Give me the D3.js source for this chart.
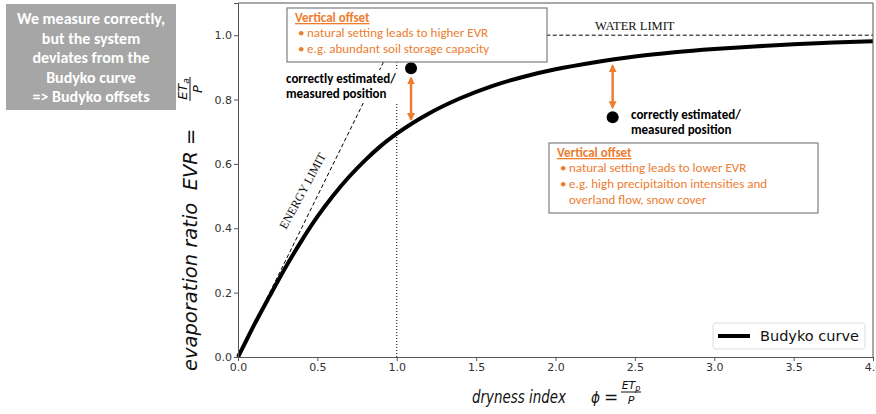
<!DOCTYPE html>
<html>
<head>
<meta charset="utf-8">
<script src="https://cdn.jsdelivr.net/npm/d3@7/dist/d3.min.js"></script>
<style>
  html, body { margin: 0; padding: 0; background: #fff; }
  svg { display: block; }
  .mpl { font-family: "DejaVu Sans", sans-serif; }
  .cal { font-family: Carlito, Lato, "Open Sans", sans-serif; }
  .serif { font-family: "Liberation Serif", "DejaVu Serif", serif; }
</style>
</head>
<body>
<svg id="chart" width="876" height="414"></svg>
<script>
// Budyko curve samples: dryness index (phi) vs evaporation ratio (EVR)
const phiSamples = [0, 0.05, 0.1, 0.2, 0.3, 0.4, 0.5, 0.6, 0.7, 0.8, 0.9, 1.0,
                    1.2, 1.4, 1.6, 1.8, 2.0, 2.25, 2.5, 2.75, 3.0, 3.25, 3.5, 3.75, 4.0];
const evrSamples = [0, 0.049, 0.098, 0.190, 0.279, 0.361, 0.436, 0.502, 0.560, 0.611, 0.656, 0.694,
                    0.756, 0.804, 0.842, 0.871, 0.894, 0.916, 0.934, 0.947, 0.957, 0.965, 0.972, 0.977, 0.981];

// Measured catchments that sit off the curve
const offsetPhi = [1.09, 2.36];
const offsetEvr = [0.897, 0.745];

// Double-headed offset arrows (from point side to curve side)
const arrowPhi  = [1.09, 2.36];
const arrowFrom = [0.867, 0.775];
const arrowTo   = [0.738, 0.905];

// Limits
const energyLimit = [[0, 0], [1.0, 1.0]];
const waterLimit  = [[1.0, 1.0], [4.0, 1.0]];
const phiOne      = [[1.0, 0], [1.0, 1.0]];

// Tick labels
const xTicks = [0, 0.5, 1.0, 1.5, 2.0, 2.5, 3.0, 3.5, 4.0];
const yTicks = [0, 0.2, 0.4, 0.6, 0.8, 1.0];

const orange = "#ED7D31";
const svg = d3.select("#chart");

const x = d3.scaleLinear().domain([0, 4]).range([238, 873]);
const y = d3.scaleLinear().domain([0, 1.1]).range([357, 3]);

// arrow head markers
const defs = svg.append("defs");
["start", "end"].forEach(k => {
  defs.append("marker")
    .attr("id", "head-" + k)
    .attr("viewBox", "0 0 10 10")
    .attr("refX", 8).attr("refY", 5)
    .attr("markerWidth", 3.2).attr("markerHeight", 3.6)
    .attr("markerUnits", "strokeWidth")
    .attr("orient", k === "start" ? "auto-start-reverse" : "auto")
    .append("path").attr("d", "M0,0 L10,5 L0,10 Z").attr("fill", orange);
});

const line = d3.line().x(d => x(d[0])).y(d => y(d[1]));

// dotted vertical at phi = 1
svg.append("path").attr("d", line(phiOne))
  .attr("stroke", "#000").attr("stroke-width", 1).attr("stroke-dasharray", "1,2").attr("fill", "none");
// energy limit
svg.append("path").attr("d", line(energyLimit))
  .attr("stroke", "#000").attr("stroke-width", 1).attr("stroke-dasharray", "4,2.5").attr("fill", "none");
// water limit
svg.append("path").attr("d", line(waterLimit))
  .attr("stroke", "#000").attr("stroke-width", 1).attr("stroke-dasharray", "4,2.5").attr("fill", "none");

// Budyko curve
const curveData = phiSamples.map((p, i) => [p, evrSamples[i]]);
svg.append("path")
  .attr("d", d3.line().x(d => x(d[0])).y(d => y(d[1])).curve(d3.curveMonotoneX)(curveData))
  .attr("stroke", "#000").attr("stroke-width", 4).attr("fill", "none");

// axes
const xAxis = svg.append("g").attr("class", "mpl").attr("transform", `translate(0,${y(0)})`)
  .call(d3.axisBottom(x).tickValues(xTicks).tickFormat(d3.format(".1f")).tickSizeOuter(0).tickSize(4).tickPadding(2));
const yAxis = svg.append("g").attr("class", "mpl").attr("transform", `translate(${x(0)},0)`)
  .call(d3.axisLeft(y).tickValues(yTicks).tickFormat(d3.format(".1f")).tickSizeOuter(0).tickSize(4).tickPadding(2));
[xAxis, yAxis].forEach(a => {
  a.selectAll("text").attr("font-size", 11).attr("fill", "#333").attr("font-family", "DejaVu Sans");
  a.selectAll("line").attr("stroke", "#555");
  a.select(".domain").attr("stroke", "#555");
});
// top and right spines
svg.append("path")
  .attr("d", `M${x(0)},${y(1.1)} H${x(4)} V${y(0)}`)
  .attr("stroke", "#555").attr("fill", "none");

// limit labels
svg.append("text").attr("class", "serif").attr("x", 595).attr("y", 30)
  .attr("font-size", 12.5).attr("fill", "#111").text("WATER LIMIT");
svg.append("text").attr("class", "serif")
  .attr("transform", "translate(286,230) rotate(-61.5)")
  .attr("font-size", 12).attr("fill", "#111").text("ENERGY LIMIT");

// offset arrows
svg.selectAll(".offarrow").data(arrowPhi).enter().append("line")
  .attr("x1", d => x(d)).attr("x2", d => x(d))
  .attr("y1", (d, i) => y(arrowFrom[i])).attr("y2", (d, i) => y(arrowTo[i]))
  .attr("stroke", orange).attr("stroke-width", 2.5)
  .attr("marker-start", "url(#head-start)").attr("marker-end", "url(#head-end)");

// off-curve points
svg.selectAll(".pt").data(offsetPhi).enter().append("circle")
  .attr("cx", d => x(d)).attr("cy", (d, i) => y(offsetEvr[i])).attr("r", 6).attr("fill", "#000");

// point labels
function pointLabel(px, py, withBg) {
  const g = svg.append("g").attr("class", "cal");
  if (withBg) g.append("rect").attr("x", px - 3).attr("y", py - 13).attr("width", 120).attr("height", 33).attr("fill", "#fff");
  g.append("text").attr("x", px).attr("y", py).attr("font-size", 13).attr("font-weight", 700)
    .attr("fill", "#000").text("correctly estimated/");
  g.append("text").attr("x", px).attr("y", py + 15).attr("font-size", 13).attr("font-weight", 700)
    .attr("fill", "#000").text("measured position");
}
pointLabel(286, 83, true);
pointLabel(631, 119, false);

// annotation boxes
function noteBox(bx, by, bw, bh, lines) {
  const g = svg.append("g").attr("class", "cal");
  g.append("rect").attr("x", bx).attr("y", by).attr("width", bw).attr("height", bh)
    .attr("fill", "#fff").attr("stroke", "#7f7f7f").attr("stroke-width", 1.2);
  g.append("text").attr("x", bx + 8).attr("y", by + 14).attr("font-size", 13)
    .attr("font-weight", 700).attr("fill", orange).attr("text-decoration", "underline").text("Vertical offset");
  lines.forEach((l, i) => {
    if (l.bullet) g.append("text").attr("x", bx + 11).attr("y", by + 29 + i * 16)
      .attr("font-size", 13).attr("fill", orange).text("•");
    g.append("text").attr("x", bx + 20).attr("y", by + 29 + i * 16)
      .attr("font-size", 13).attr("fill", orange).text(l.text);
  });
}
noteBox(287, 8, 260, 54, [
  { bullet: true, text: "natural setting leads to higher EVR" },
  { bullet: true, text: "e.g. abundant soil storage capacity" }
]);
noteBox(549, 143, 269, 70, [
  { bullet: true, text: "natural setting leads to lower EVR" },
  { bullet: true, text: "e.g. high precipitaition intensities and" },
  { bullet: false, text: "overland flow, snow cover" }
]);

// legend
const lg = svg.append("g").attr("class", "mpl");
lg.append("rect").attr("x", 713).attr("y", 323).attr("width", 152).attr("height", 26).attr("rx", 3)
  .attr("fill", "#fff").attr("stroke", "#ddd");
lg.append("line").attr("x1", 718).attr("x2", 750).attr("y1", 336).attr("y2", 336)
  .attr("stroke", "#000").attr("stroke-width", 4);
lg.append("text").attr("x", 760).attr("y", 341).attr("font-size", 14.5).attr("fill", "#111").text("Budyko curve");

// y-axis label with fraction
const yl = svg.append("g").attr("class", "mpl").attr("transform", "translate(197,371) rotate(-90)")
  .attr("fill", "#111").attr("font-style", "italic");
yl.append("text").attr("x", 0).attr("y", 0).attr("font-size", 19.5).attr("xml:space", "preserve")
  .text("evaporation ratio  EVR =");
yl.append("line").attr("x1", 270).attr("x2", 294).attr("y1", -7).attr("y2", -7).attr("stroke", "#111").attr("stroke-width", 1);
const yn = yl.append("text").attr("x", 282).attr("y", -10).attr("text-anchor", "middle").attr("font-size", 13);
yn.append("tspan").text("ET");
yn.append("tspan").attr("font-size", 9).attr("dy", 2).text("a");
yl.append("text").attr("x", 282).attr("y", 5).attr("text-anchor", "middle").attr("font-size", 13).text("P");

// x-axis label with fraction
const xl = svg.append("g").attr("class", "mpl").attr("fill", "#111").attr("font-style", "italic");
xl.append("text").attr("x", 472).attr("y", 403).attr("font-size", 17)
  .attr("textLength", 94).attr("lengthAdjust", "spacingAndGlyphs").text("dryness index");
xl.append("text").attr("x", 591).attr("y", 403).attr("font-size", 16)
  .attr("textLength", 9).attr("lengthAdjust", "spacingAndGlyphs").text("ϕ");
xl.append("text").attr("x", 604).attr("y", 403).attr("font-size", 17).attr("font-style", "normal").text("=");
xl.append("line").attr("x1", 621).attr("x2", 641).attr("y1", 392).attr("y2", 392).attr("stroke", "#111").attr("stroke-width", 1);
const xn = xl.append("text").attr("x", 631).attr("y", 389).attr("text-anchor", "middle").attr("font-size", 11);
xn.append("tspan").text("ET");
xn.append("tspan").attr("font-size", 8).attr("dy", 2).text("p");
xl.append("text").attr("x", 631).attr("y", 404).attr("text-anchor", "middle").attr("font-size", 11).text("P");

// summary box at top left
const sb = svg.append("g").attr("class", "cal");
sb.append("rect").attr("x", 6).attr("y", 4).attr("width", 170).attr("height", 106).attr("fill", "#a6a6a6");
["We measure correctly,", "but the system", "deviates from the", "Budyko curve", "=> Budyko offsets"]
  .forEach((t, i) => {
    sb.append("text").attr("x", 91).attr("y", 24 + i * 19.5).attr("text-anchor", "middle")
      .attr("font-size", 16).attr("font-weight", 700).attr("fill", "#fff").text(t);
  });
</script>
</body>
</html>
